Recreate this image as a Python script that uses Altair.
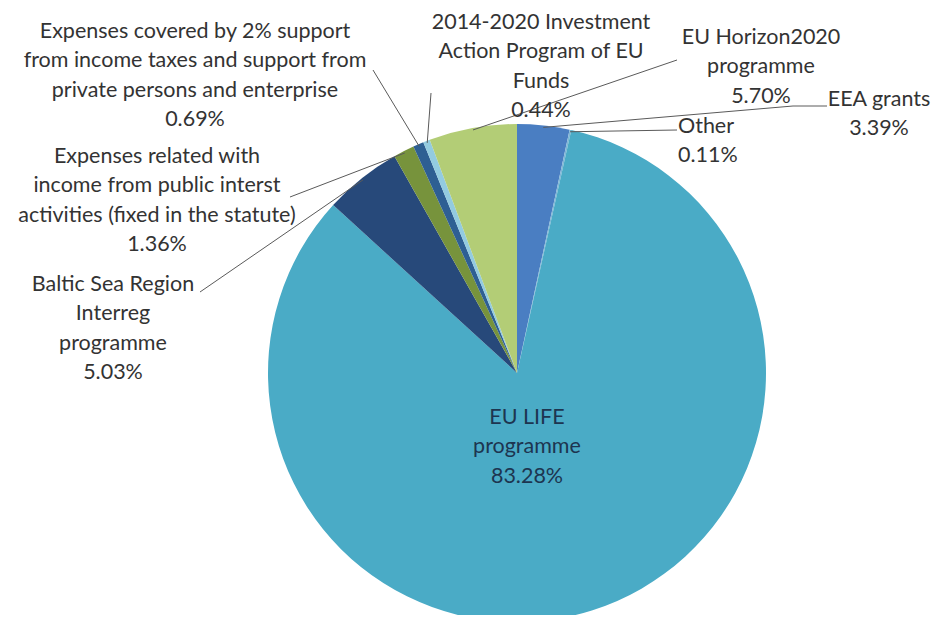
import altair as alt
import pandas as pd
import numpy as np

# ---- data ----
categories = [
    "EEA grants",
    "Other",
    "EU LIFE programme",
    "Baltic Sea Region Interreg programme",
    "Expenses related with income from public interst activities (fixed in the statute)",
    "Expenses covered by 2% support from income taxes and support from private persons and enterprise",
    "2014-2020 Investment Action Program of EU Funds",
    "EU Horizon2020 programme",
]
shares = [3.39, 0.11, 83.28, 5.03, 1.36, 0.69, 0.44, 5.70]
label_lines = [
    ["EEA grants", "3.39%"],
    ["Other", "0.11%"],
    ["EU LIFE", "programme", "83.28%"],
    ["Baltic Sea Region", "Interreg", "programme", "5.03%"],
    ["Expenses related with", "income from public interst", "activities (fixed in the statute)", "1.36%"],
    ["Expenses covered by 2% support", "from income taxes and support from", "private persons and enterprise", "0.69%"],
    ["2014-2020 Investment", "Action Program of EU", "Funds", "0.44%"],
    ["EU Horizon2020", "programme", "5.70%"],
]

# ---- style / layout ----
colors = ["#4a7ec2", "#7fb6d6", "#4aabc6", "#27497a", "#77933c", "#2e5f93", "#93cbe0", "#b3cd76"]
W, H = 925, 607
CX, CY, R = 509, 365, 249
LH = 29.3
# label anchor (x, y of first line middle, align) in chart coordinates
label_pos = [
    (871, 92, "center"),
    (670, 119, "left"),
    (519, 410, "center"),
    (105, 277, "center"),
    (149, 149, "center"),
    (187, 24, "center"),
    (533, 15, "center"),
    (753, 30, "center"),
]
# leader line end points (chart coords); None = no leader
leader_end = [
    [(785, 98), (819, 98)],
    [(669, 122)],
    None,
    [(192, 284)],
    [(282, 189)],
    [(365, 62)],
    [(423, 85)],
    [(669, 52)],
]

# ---- build tables ----
df = pd.DataFrame({"category": categories, "share": shares, "idx": range(len(shares))})

cum = np.cumsum(shares)
mids = cum - np.array(shares) / 2
rows_text_c, rows_text_l, rows_text_in, rows_rule = [], [], [], []
for i, lines in enumerate(label_lines):
    lx, ly, al = label_pos[i]
    for j, t in enumerate(lines):
        rec = {"x": lx, "y": ly + j * LH, "text": t}
        if i == 2:
            rows_text_in.append(rec)
        elif al == "left":
            rows_text_l.append(rec)
        else:
            rows_text_c.append(rec)
    if leader_end[i] is not None:
        a = mids[i] / 100 * 2 * np.pi
        px, py = CX + (R - 2) * np.sin(a), CY - (R - 2) * np.cos(a)
        for (ex, ey) in leader_end[i]:
            rows_rule.append({"x": px, "y": py, "x2": ex, "y2": ey})
            px, py = ex, ey

pie = alt.Chart(df).mark_arc(outerRadius=R).encode(
    theta=alt.Theta("share:Q", stack=True),
    order=alt.Order("idx:Q"),
    color=alt.Color("category:N", scale=alt.Scale(domain=categories, range=colors), legend=None),
    x=alt.value(CX),
    y=alt.value(CY),
)

rules = alt.Chart(pd.DataFrame(rows_rule)).mark_rule(color="#5a5a5a", strokeWidth=1).encode(
    x=alt.X("x:Q", scale=None), y=alt.Y("y:Q", scale=None), x2="x2:Q", y2="y2:Q"
)

font = "Lato"
fs = 21.5
txt_c = alt.Chart(pd.DataFrame(rows_text_c)).mark_text(
    font=font, fontSize=fs, color="#333333", align="center", baseline="middle"
).encode(x=alt.X("x:Q", scale=None), y=alt.Y("y:Q", scale=None), text="text:N")
txt_l = alt.Chart(pd.DataFrame(rows_text_l)).mark_text(
    font=font, fontSize=fs, color="#333333", align="left", baseline="middle"
).encode(x=alt.X("x:Q", scale=None), y=alt.Y("y:Q", scale=None), text="text:N")
txt_in = alt.Chart(pd.DataFrame(rows_text_in)).mark_text(
    font=font, fontSize=fs, color="#1d3550", align="center", baseline="middle"
).encode(x=alt.X("x:Q", scale=None), y=alt.Y("y:Q", scale=None), text="text:N")

chart = alt.layer(pie, rules, txt_c, txt_l, txt_in).properties(
    width=W, height=H, padding=0, autosize=alt.AutoSizeParams(type="none")
).configure_view(stroke=None)

chart.save("out.html", embed_options={"renderer": "svg", "actions": False})
